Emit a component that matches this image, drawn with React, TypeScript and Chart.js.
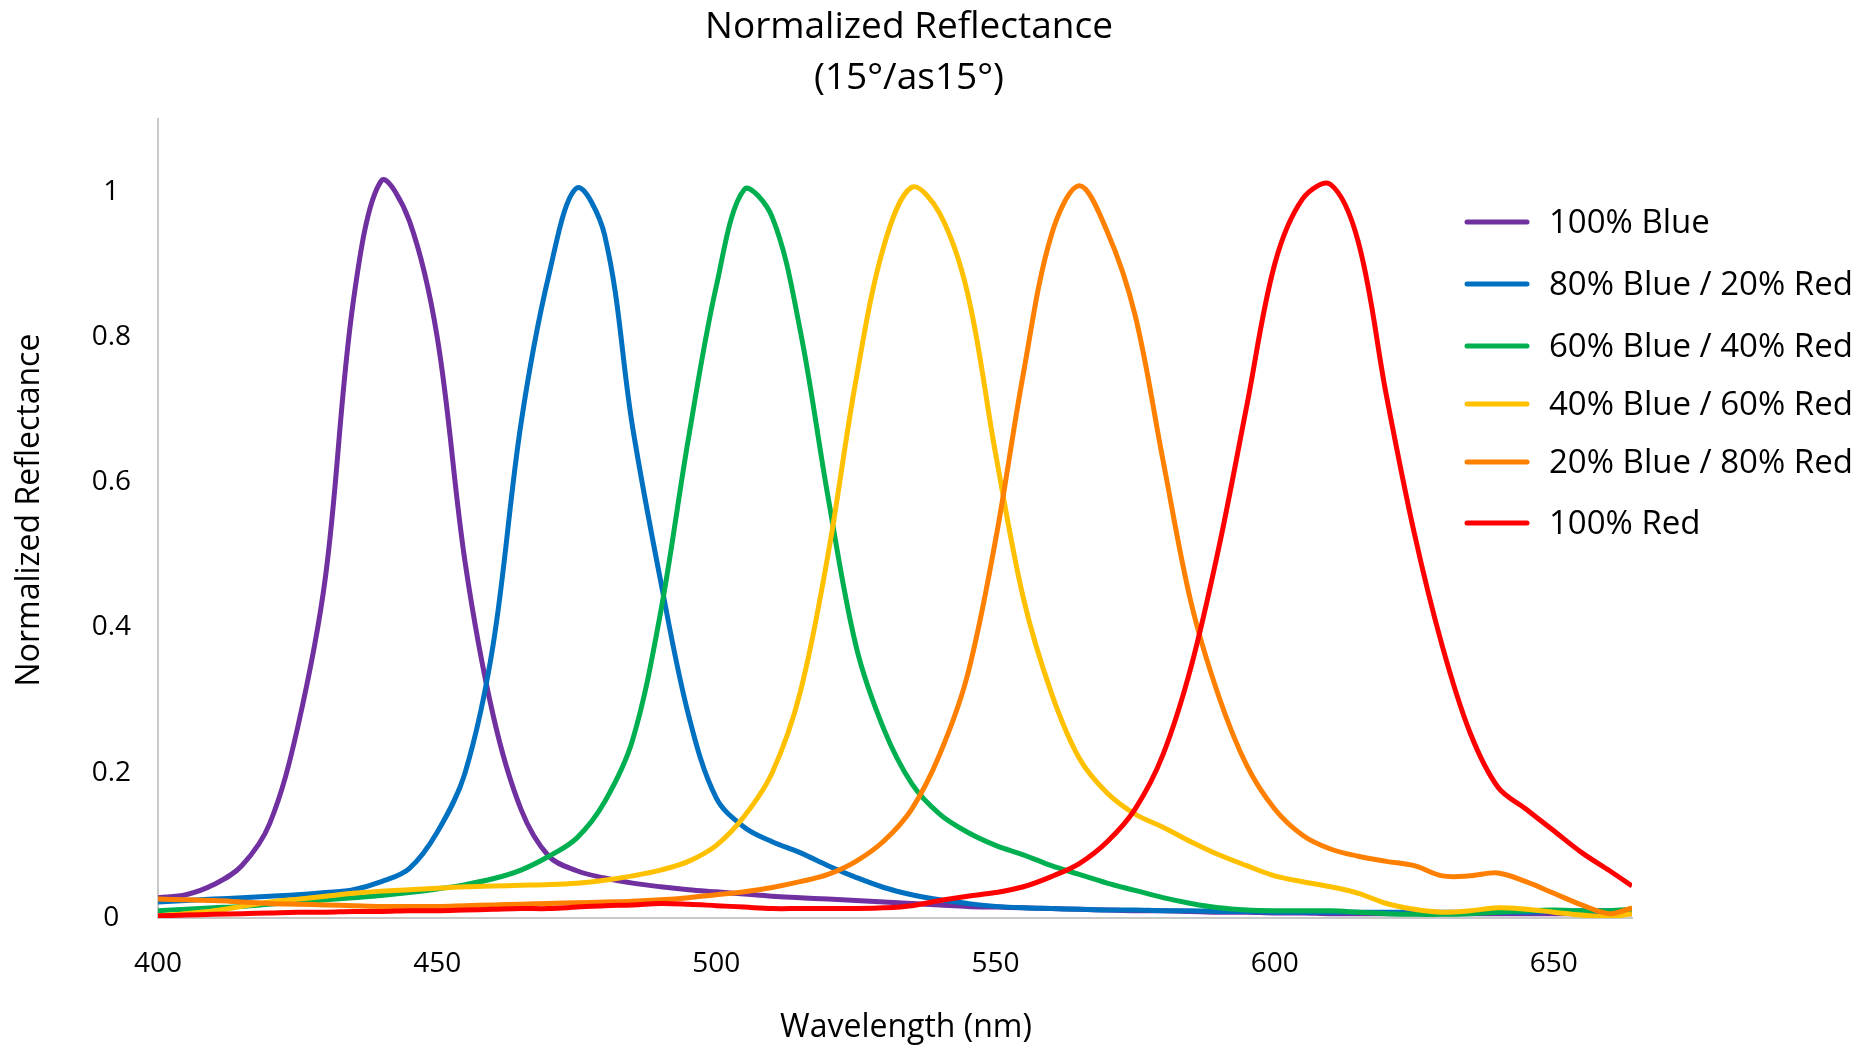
import React, { useEffect, useRef } from "react";
import { Chart, registerables } from "chart.js";

Chart.register(...registerables);

const TITLE_LINES = ["Normalized Reflectance", "(15°/as15°)"];
const X_TITLE = "Wavelength (nm)";
const Y_TITLE = "Normalized Reflectance";

const WAVELENGTHS = [
  400, 405, 410, 415, 420, 425, 430, 435, 440, 445, 450, 455, 460, 465, 470, 475, 480, 485, 490, 495,
  500, 505, 510, 515, 520, 525, 530, 535, 540, 545, 550, 555, 560, 565, 570, 575, 580, 585, 590, 595,
  600, 605, 610, 615, 620, 625, 630, 635, 640, 645, 650, 655, 660, 664,
];

const BLUE_100 = [
  0.028, 0.032, 0.046, 0.072, 0.13, 0.262, 0.47, 0.85, 1.015, 0.96, 0.8, 0.49, 0.28, 0.15, 0.085, 0.065, 0.055, 0.048, 0.043, 0.039,
  0.036, 0.033, 0.03, 0.028, 0.026, 0.024, 0.022, 0.02, 0.018, 0.016, 0.015, 0.014, 0.013, 0.012, 0.011, 0.01, 0.01, 0.009, 0.008, 0.008,
  0.007, 0.007, 0.006, 0.006, 0.006, 0.006, 0.006, 0.006, 0.006, 0.006, 0.006, 0.006, 0.006, 0.006,
];

const BLUE_80_RED_20 = [
  0.022, 0.024, 0.026, 0.028, 0.03, 0.032, 0.035, 0.039, 0.05, 0.068, 0.118, 0.2, 0.375, 0.68, 0.885, 1.005, 0.94, 0.676, 0.465, 0.28,
  0.165, 0.125, 0.105, 0.09, 0.072, 0.056, 0.042, 0.032, 0.025, 0.02, 0.016, 0.014, 0.013, 0.012, 0.011, 0.011, 0.01, 0.01, 0.009, 0.009,
  0.008, 0.008, 0.008, 0.008, 0.008, 0.008, 0.008, 0.008, 0.008, 0.008, 0.009, 0.01, 0.01, 0.01,
];

const BLUE_60_RED_40 = [
  0.01, 0.012, 0.014, 0.016, 0.019, 0.022, 0.025, 0.028, 0.031, 0.035, 0.04, 0.046, 0.054, 0.066, 0.085, 0.11, 0.16, 0.245, 0.42, 0.66,
  0.87, 1.003, 0.965, 0.81, 0.58, 0.375, 0.26, 0.185, 0.143, 0.118, 0.1, 0.087, 0.072, 0.06, 0.048, 0.038, 0.028, 0.02, 0.014, 0.011,
  0.01, 0.01, 0.01, 0.008, 0.006, 0.005, 0.005, 0.006, 0.008, 0.01, 0.011, 0.01, 0.01, 0.012,
];

const BLUE_40_RED_60 = [
  0.003, 0.006, 0.01, 0.016, 0.022, 0.026, 0.03, 0.034, 0.037, 0.039, 0.041, 0.043, 0.044, 0.045, 0.046, 0.048, 0.052, 0.058, 0.066, 0.078,
  0.1, 0.14, 0.2, 0.31, 0.5, 0.74, 0.925, 1.006, 0.97, 0.86, 0.64, 0.44, 0.31, 0.22, 0.172, 0.143, 0.125, 0.105, 0.087, 0.072,
  0.058, 0.05, 0.043, 0.034, 0.02, 0.012, 0.008, 0.01, 0.014, 0.012, 0.008, 0.004, 0.002, 0.006,
];

const BLUE_20_RED_80 = [
  0.026, 0.025, 0.024, 0.022, 0.02, 0.019, 0.018, 0.017, 0.016, 0.016, 0.016, 0.017, 0.018, 0.019, 0.02, 0.021, 0.022, 0.023, 0.025, 0.028,
  0.032, 0.036, 0.042, 0.05, 0.06, 0.078, 0.106, 0.15, 0.225, 0.335, 0.52, 0.75, 0.94, 1.008, 0.945, 0.83, 0.63, 0.435, 0.305, 0.21,
  0.15, 0.114, 0.095, 0.085, 0.078, 0.072, 0.058, 0.058, 0.062, 0.05, 0.034, 0.018, 0.006, 0.014,
];

const RED_100 = [
  0.003, 0.004, 0.005, 0.006, 0.007, 0.008, 0.008, 0.009, 0.009, 0.01, 0.01, 0.011, 0.012, 0.013, 0.013, 0.015, 0.017, 0.018, 0.02, 0.019,
  0.017, 0.015, 0.013, 0.013, 0.013, 0.013, 0.014, 0.017, 0.024, 0.03, 0.035, 0.043, 0.057, 0.075, 0.105, 0.15, 0.225, 0.345, 0.51, 0.705,
  0.9, 0.99, 1.01, 0.93, 0.72, 0.53, 0.375, 0.255, 0.18, 0.15, 0.12, 0.09, 0.065, 0.044,
];

const SERIES_LABELS = [
  "100% Blue",
  "80% Blue / 20% Red",
  "60% Blue / 40% Red",
  "40% Blue / 60% Red",
  "20% Blue / 80% Red",
  "100% Red",
];
const SERIES_VALUES = [BLUE_100, BLUE_80_RED_20, BLUE_60_RED_40, BLUE_40_RED_60, BLUE_20_RED_80, RED_100];
const SERIES_COLORS = ["#7030A0", "#0070C0", "#00B050", "#FFC000", "#FF8000", "#FF0000"];

const X_TICK_STEP = 50;
const Y_TICK_STEP = 0.2;

const FONT = "'Open Sans', 'Liberation Sans', sans-serif";
const W = 1865;
const H = 1047;
const LINE_W = 5;

// layout constants (pixels)
const LEGEND_ROWS_Y = [222, 284, 346, 404, 462, 523];
const LEGEND_LINE_X0 = 1467;
const LEGEND_LINE_X1 = 1527;
const LEGEND_TEXT_X = 1549;

const decorPlugin = {
  id: "decor",
  afterDraw(chart: any) {
    const ctx = chart.ctx as CanvasRenderingContext2D;
    ctx.save();
    ctx.fillStyle = "#000";
    ctx.textAlign = "center";
    ctx.textBaseline = "alphabetic";
    ctx.font = `37px ${FONT}`;
    ctx.fillText(TITLE_LINES[0], 909, 38);
    ctx.fillText(TITLE_LINES[1], 909, 89);

    // axis titles
    ctx.font = `32px ${FONT}`;
    ctx.textBaseline = "middle";
    ctx.fillText(X_TITLE, 906, 1028);
    ctx.save();
    ctx.translate(30, 510);
    ctx.rotate(-Math.PI / 2);
    ctx.fillText(Y_TITLE, 0, 0);
    ctx.restore();

    chart.data.datasets.forEach((ds: any, i: number) => {
      const y = LEGEND_ROWS_Y[i];
      ctx.strokeStyle = ds.borderColor;
      ctx.lineWidth = LINE_W;
      ctx.lineCap = "round";
      ctx.beginPath();
      ctx.moveTo(LEGEND_LINE_X0, y);
      ctx.lineTo(LEGEND_LINE_X1, y);
      ctx.stroke();
      ctx.fillStyle = "#000";
      ctx.textAlign = "left";
      ctx.textBaseline = "middle";
      ctx.font = `33px ${FONT}`;
      ctx.fillText(ds.label, LEGEND_TEXT_X, y + 2);
    });
    ctx.restore();
  },
};

export default function App() {
  const canvasRef = useRef<HTMLCanvasElement | null>(null);

  useEffect(() => {
    if (!canvasRef.current) return;
    const datasets = SERIES_LABELS.map((label, s) => ({
      label,
      data: WAVELENGTHS.map((x, i) => ({ x, y: SERIES_VALUES[s][i] })),
      borderColor: SERIES_COLORS[s],
      backgroundColor: SERIES_COLORS[s],
      borderWidth: LINE_W,
      pointRadius: 0,
      fill: false,
      tension: 0.35,
      order: SERIES_LABELS.length - s,
    }));

    const chart = new Chart(canvasRef.current, {
      type: "line",
      data: { datasets },
      plugins: [decorPlugin],
      options: {
        animation: false,
        responsive: false,
        maintainAspectRatio: false,
        devicePixelRatio: 1,
        layout: { padding: { left: 0, right: W - 1632, top: 119, bottom: 0 } },
        plugins: {
          legend: { display: false },
          title: { display: false },
          tooltip: { enabled: false },
        },
        scales: {
          x: {
            type: "linear",
            min: 400,
            max: 664,
            afterFit: (s: any) => {
              s.height = 129;
            },
            afterBuildTicks: (s: any) => {
              s.ticks = s.ticks.filter((t: any) => t.value % X_TICK_STEP === 0);
            },
            ticks: {
              stepSize: X_TICK_STEP,
              padding: 29,
              color: "#000",
              maxRotation: 0,
              autoSkip: false,
              font: { family: FONT, size: 28 },
            },
            grid: { display: false, drawTicks: false },
            border: { display: true, color: "#C8C8C8", width: 2 },
            title: { display: false },
          },
          y: {
            min: 0,
            max: 1.1,
            afterFit: (s: any) => {
              s.width = 158;
            },
            afterBuildTicks: (s: any) => {
              s.ticks = s.ticks.filter((t: any) => Math.abs(t.value / Y_TICK_STEP - Math.round(t.value / Y_TICK_STEP)) < 1e-6);
            },
            ticks: {
              stepSize: Y_TICK_STEP,
              padding: 27,
              crossAlign: "center",
              color: "#000",
              font: { family: FONT, size: 28 },
              callback: (v: any) => String(Math.round(Number(v) * 10) / 10),
            },
            grid: { display: false, drawTicks: false },
            border: { display: true, color: "#C8C8C8", width: 2 },
            title: { display: false },
          },
        },
      },
    });
    return () => chart.destroy();
  }, []);

  return (
    <div style={{ position: "fixed", left: 0, top: 0, width: W, height: H, background: "#fff" }}>
      <canvas ref={canvasRef} width={W} height={H} style={{ width: W, height: H, display: "block" }} />
    </div>
  );
}
